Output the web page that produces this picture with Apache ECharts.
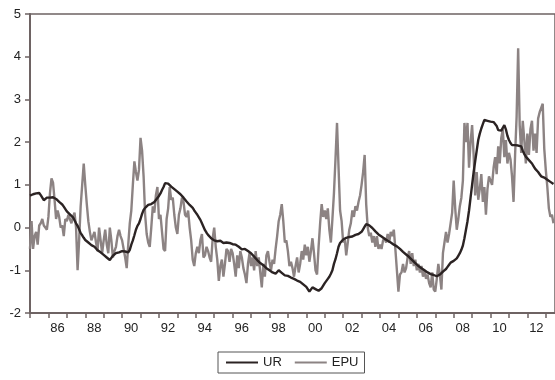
<!DOCTYPE html>
<html>
<head>
<meta charset="utf-8">
<script src="https://cdn.jsdelivr.net/npm/echarts@6/dist/echarts.min.js"></script>
<style>
html,body{margin:0;padding:0;background:#fff;}
#chart{width:555px;height:380px;}
</style>
</head>
<body>
<div id="chart"></div>
<script>
// Monthly series starting 1985M1
const startYear = 1985;
const seriesNames = ['UR', 'EPU'];
const ur = [
  0.75, 0.74, 0.78, 0.76, 0.80, 0.83, 0.81, 0.76, 0.72, 0.64, 0.66, 0.70,
  0.69, 0.70, 0.68, 0.71, 0.69, 0.67, 0.64, 0.60, 0.58, 0.54, 0.49, 0.45,
  0.38, 0.34, 0.31, 0.29, 0.24, 0.17, 0.10, 0.04, -0.04, -0.13, -0.18, -0.24,
  -0.29, -0.32, -0.35, -0.37, -0.41, -0.43, -0.45, -0.49, -0.53, -0.55, -0.58, -0.62,
  -0.64, -0.67, -0.70, -0.74, -0.76, -0.71, -0.66, -0.62, -0.60, -0.63, -0.58, -0.57,
  -0.55, -0.53, -0.56, -0.60, -0.58, -0.52, -0.40, -0.30, -0.18, -0.05, 0.04, 0.10,
  0.20, 0.32, 0.41, 0.46, 0.50, 0.53, 0.52, 0.55, 0.57, 0.60, 0.64, 0.69,
  0.74, 0.80, 0.88, 0.95, 1.04, 1.08, 1.03, 1.00, 0.96, 0.94, 0.90, 0.86,
  0.84, 0.80, 0.78, 0.76, 0.70, 0.66, 0.61, 0.58, 0.53, 0.49, 0.46, 0.40,
  0.35, 0.30, 0.24, 0.18, 0.10, 0.02, -0.06, -0.12, -0.17, -0.21, -0.25, -0.28,
  -0.30, -0.28, -0.32, -0.33, -0.31, -0.34, -0.36, -0.37, -0.35, -0.33, -0.36, -0.38,
  -0.39, -0.41, -0.40, -0.42, -0.45, -0.48, -0.51, -0.53, -0.50, -0.52, -0.55, -0.58,
  -0.60, -0.63, -0.68, -0.72, -0.76, -0.79, -0.83, -0.86, -0.88, -0.90, -0.95, -0.98,
  -1.00, -1.02, -1.05, -1.06, -1.08, -1.04, -1.00, -1.03, -1.06, -1.10, -1.12, -1.11,
  -1.13, -1.15, -1.17, -1.18, -1.20, -1.22, -1.24, -1.26, -1.27, -1.30, -1.33, -1.36,
  -1.39, -1.42, -1.50, -1.47, -1.40, -1.42, -1.44, -1.46, -1.48, -1.46, -1.42, -1.36,
  -1.30, -1.26, -1.20, -1.15, -1.08, -1.00, -0.85, -0.74, -0.60, -0.45, -0.36, -0.32,
  -0.28, -0.26, -0.24, -0.25, -0.22, -0.20, -0.21, -0.19, -0.17, -0.18, -0.15, -0.12,
  -0.10, -0.04, 0.02, 0.08, 0.10, 0.05, 0.02, -0.01, -0.05, -0.09, -0.13, -0.16,
  -0.18, -0.21, -0.24, -0.26, -0.28, -0.31, -0.33, -0.35, -0.37, -0.40, -0.41, -0.44,
  -0.47, -0.50, -0.53, -0.57, -0.60, -0.63, -0.66, -0.69, -0.72, -0.76, -0.80, -0.83,
  -0.86, -0.90, -0.93, -0.95, -0.98, -1.00, -1.03, -1.05, -1.07, -1.09, -1.10, -1.11,
  -1.12, -1.14, -1.13, -1.10, -1.08, -1.03, -1.00, -0.97, -0.92, -0.87, -0.82, -0.80,
  -0.78, -0.74, -0.72, -0.66, -0.60, -0.52, -0.42, -0.25, -0.05, 0.15, 0.40, 0.70,
  1.00, 1.30, 1.55, 1.80, 2.05, 2.20, 2.32, 2.42, 2.52, 2.55, 2.50, 2.53,
  2.48, 2.50, 2.47, 2.45, 2.38, 2.28, 2.30, 2.27, 2.30, 2.40, 2.30, 2.15,
  2.05, 1.98, 1.93, 1.92, 1.93, 1.94, 1.92, 1.93, 1.90, 1.80, 1.72, 1.66,
  1.62, 1.58, 1.54, 1.50, 1.44, 1.38, 1.35, 1.30, 1.25, 1.20, 1.19, 1.17,
  1.15, 1.12, 1.10, 1.07, 1.05, 1.02
];
const epu = [
  -0.50, 0.15, -0.50, -0.20, -0.10, -0.40, 0.05, 0.10, 0.20, 0.05, 0.00, -0.05,
  0.25, 0.80, 1.15, 1.05, 0.65, 0.20, 0.40, 0.25, 0.00, 0.05, -0.20, 0.20,
  0.15, 0.30, 0.20, 0.10, 0.25, 0.35, 0.00, -1.00, -0.30, 0.50, 1.00, 1.50,
  1.00, 0.55, 0.15, -0.10, -0.30, -0.20, -0.10, -0.35, -0.55, 0.00, -0.30, -0.60,
  -0.30, -0.05, -0.40, -0.60, 0.00, -0.30, -0.70, -0.55, -0.45, -0.20, -0.05, -0.20,
  -0.30, -0.50, -0.70, -0.95, -0.40, 0.10, 0.40, 1.00, 1.55, 1.30, 1.10, 1.35,
  2.10, 1.80, 1.20, 0.30, -0.15, -0.35, -0.45, 0.00, 0.50, 0.35, 0.75, 0.95,
  0.20, 0.30, -0.10, -0.50, -0.55, 0.20, 0.45, 0.95, 0.65, 0.70, 0.30, 0.00,
  -0.15, 0.30, 0.45, 0.70, 0.60, 0.30, 0.25, 0.40, 0.00, -0.30, -0.75, -0.90,
  -0.60, -0.45, -0.60, -0.30, -0.15, -0.70, -0.65, -0.45, -0.55, -0.70, -0.80, -0.25,
  0.00, -0.45, -0.75, -1.25, -0.90, -0.75, -1.15, -0.85, -0.50, -0.55, -0.80, -0.50,
  -0.60, -0.85, -1.15, -0.65, -0.95, -0.55, -0.70, -0.95, -1.10, -1.30, -0.85, -0.60,
  -0.90, -0.70, -1.00, -0.55, -0.90, -0.70, -1.05, -1.40, -0.85, -1.15, -0.65, -0.55,
  -0.80, -1.00, -0.75, -0.85, -0.50, -0.20, 0.15, 0.30, 0.55, 0.15, -0.35, -0.30,
  -0.55, -0.90, -0.80, -0.95, -1.15, -0.90, -0.70, -1.05, -0.85, -0.55, -0.75, -0.40,
  -0.65, -0.45, -0.80, -0.55, -0.25, -0.60, -1.00, -1.10, -0.45, 0.10, 0.55, 0.25,
  0.40, 0.20, 0.45, -0.05, -0.35, 0.20, 0.80, 1.60, 2.45, 1.40, 0.40, 0.15,
  -0.35, -0.25, -0.65, -0.35, -0.05, 0.10, 0.40, 0.25, 0.50, 0.40, 0.60, 0.75,
  1.00, 1.30, 1.70, 0.55, 0.00, -0.20, -0.12, -0.35, -0.20, -0.45, -0.20, -0.50,
  -0.40, -0.50, -0.30, -0.25, -0.35, -0.15, -0.35, -0.10, -0.20, -0.05, -0.50, -1.00,
  -1.50, -1.10, -1.05, -0.85, -1.05, -0.95, -0.70, -0.55, -0.85, -0.60, -0.90, -0.75,
  -1.00, -0.85, -1.05, -0.90, -1.15, -1.00, -1.20, -1.10, -1.30, -1.40, -1.05, -1.45,
  -1.50, -1.20, -0.85, -1.10, -1.45, -0.60, -0.35, -0.10, -0.35, -0.15, 0.10, 0.35,
  1.10, 0.45, -0.05, 0.20, 0.50, 0.70, 1.10, 2.45, 2.00, 2.45, 1.40, 2.00,
  2.40, 1.70, 0.75, 1.30, 0.65, 0.90, 1.25, 0.60, 0.95, 0.30, 0.90, 1.20,
  1.10, 1.00, 1.40, 1.65, 1.25, 1.90, 1.50, 2.10, 2.30, 1.65, 2.05, 1.50,
  1.75, 1.60, 1.20, 0.60, 1.70, 2.60, 4.20, 2.40, 1.75, 2.50, 2.05, 1.50,
  2.20, 1.70, 2.30, 2.50, 1.80, 2.20, 1.75, 2.55, 2.70, 2.80, 2.90, 1.85,
  1.35, 0.95, 0.45, 0.25, 0.30, 0.10
];
const yTicks = [-2, -1, 0, 1, 2, 3, 4, 5];

function toPairs(arr) {
  return arr.map((v, i) => [startYear + i / 12, v]);
}

const axisColor = '#6e6363';
const chart = echarts.init(document.getElementById('chart'), null, {renderer: 'canvas'});
chart.setOption({
  animation: false,
  backgroundColor: '#ffffff',
  textStyle: {fontFamily: 'Liberation Sans, Arial, sans-serif'},
  grid: {
    left: 30, top: 14, width: 527, height: 299,
    show: true, borderColor: axisColor, borderWidth: 1.5, backgroundColor: 'transparent'
  },
  legend: {
    data: [
      {name: seriesNames[0], icon: 'rect', itemStyle: {color: '#2b2323'}},
      {name: seriesNames[1], icon: 'rect', itemStyle: {color: '#8c8383'}}
    ],
    left: 218, top: 352,
    itemWidth: 32, itemHeight: 2, itemGap: 13,
    padding: [4, 6, 4, 8],
    borderColor: '#555', borderWidth: 1,
    textStyle: {fontSize: 13, color: '#222'}
  },
  xAxis: {
    type: 'value', min: 1985, max: 2013.5, interval: 1,
    axisLine: {show: true, onZero: false, lineStyle: {color: axisColor, width: 2}},
    axisTick: {show: true, length: 5, lineStyle: {color: axisColor, width: 1.5}},
    splitLine: {show: false},
    axisLabel: {
      fontSize: 13, color: '#222', margin: 9,
      padding: [0, 0, 0, 18],
      showMaxLabel: false,
      formatter: function (v) {
        const y = Math.round(v);
        if (y % 2 !== 0 || y === 1985) return '';
        return String(y).slice(2);
      }
    }
  },
  yAxis: {
    type: 'value', min: yTicks[0], max: yTicks[yTicks.length - 1], interval: 1,
    axisLine: {show: true, onZero: false, lineStyle: {color: axisColor, width: 2}},
    axisTick: {show: true, length: 5, lineStyle: {color: axisColor, width: 1.5}},
    splitLine: {show: false},
    axisLabel: {fontSize: 13, color: '#222', margin: 9}
  },
  series: [
    {
      name: seriesNames[1], type: 'line', data: toPairs(epu), showSymbol: false,
      lineStyle: {color: '#8c8383', width: 2.4}, itemStyle: {color: '#8c8383'}, z: 2
    },
    {
      name: seriesNames[0], type: 'line', data: toPairs(ur), showSymbol: false,
      lineStyle: {color: '#2b2323', width: 2.4}, itemStyle: {color: '#2b2323'}, z: 3
    }
  ]
});
</script>
</body>
</html>
